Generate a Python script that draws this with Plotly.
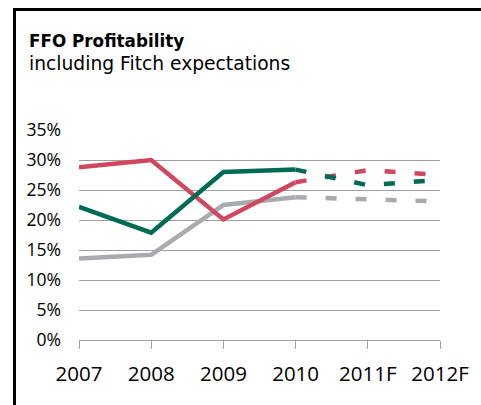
import plotly.graph_objects as go

categories = ["2007", "2008", "2009", "2010", "2011F", "2012F"]
actual_years = ["2007", "2008", "2009", "2010"]
forecast_years = ["2010", "2011F", "2012F"]

red_actual = [28.8, 30.0, 20.1, 26.3]
red_forecast = [26.3, 28.3, 27.5]
green_actual = [22.2, 17.9, 28.0, 28.4]
green_forecast = [28.4, 25.8, 26.7]
gray_actual = [13.6, 14.2, 22.5, 23.8]
gray_forecast = [23.8, 23.4, 23.1]

y_ticks = [0, 5, 10, 15, 20, 25, 30, 35]
y_ticktext = [f"{v}%" for v in y_ticks]

RED = "#D0475F"
GREEN = "#006B55"
GRAY = "#A9ABAE"
TITLE_FONT = "DejaVu Sans"
TICK_FONT = "Open Sans"

W, H = 481, 405
L, R, T, B = 79, 41, 130, 65
pw, ph = W - L - R, H - T - B


def px_x(x):
    return (x - L) / pw


def px_y(y):
    return (H - B - y) / ph


xi = {c: i for i, c in enumerate(categories)}

fig = go.Figure()
series = [
    (gray_actual, gray_forecast, GRAY),
    (red_actual, red_forecast, RED),
    (green_actual, green_forecast, GREEN),
]
for act, fc, col in series:
    fig.add_trace(go.Scatter(
        x=[xi[c] for c in actual_years], y=act, mode="lines",
        line=dict(color=col, width=4.5), showlegend=False, hoverinfo="skip"))
for act, fc, col in series:
    fig.add_trace(go.Scatter(
        x=[xi[c] for c in forecast_years], y=fc, mode="lines",
        line=dict(color=col, width=4.5, dash="11px,19px"), showlegend=False,
        hoverinfo="skip"))

fig.update_layout(
    width=W, height=H,
    margin=dict(l=L, r=R, t=T, b=B, pad=0, autoexpand=False),
    paper_bgcolor="white", plot_bgcolor="white",
    font=dict(family=TICK_FONT, color="black"),
    xaxis=dict(
        range=[0, 5], tickmode="array", tickvals=list(range(len(categories))),
        ticktext=categories, showgrid=False, zeroline=False, automargin=False,
        showline=True, linecolor="#A0A0A0", linewidth=1,
        ticks="outside", ticklen=8, tickcolor="#A0A0A0", tickwidth=1,
        tickfont=dict(size=20.5, family=TICK_FONT, color="black"),
        ticklabelstandoff=7,
    ),
    yaxis=dict(
        range=[0, 35], tickmode="array", tickvals=y_ticks, ticktext=y_ticktext,
        showgrid=True, gridcolor="#A0A0A0", gridwidth=1, zeroline=False,
        showline=False, ticks="", automargin=False,
        tickfont=dict(size=17.5, family=TICK_FONT, color="black"),
        ticklabelstandoff=17,
    ),
    annotations=[
        dict(text="FFO Profitability", xref="paper", yref="paper",
             x=px_x(27), y=px_y(41), xanchor="left", yanchor="middle", align="left",
             showarrow=False,
             font=dict(size=16.8, family=TITLE_FONT, color="black", weight="bold")),
        dict(text="including Fitch expectations", xref="paper", yref="paper",
             x=px_x(27), y=px_y(63), xanchor="left", yanchor="middle", align="left",
             showarrow=False, font=dict(size=18.7, family=TITLE_FONT, color="black")),
    ],
    shapes=[
        dict(type="path", xref="paper", yref="paper",
             path=f"M {px_x(14.5)} {px_y(405)} L {px_x(14.5)} {px_y(9.5)} L {px_x(481)} {px_y(9.5)}",
             line=dict(color="black", width=3)),
    ],
)

fig.write_html("out.html", config={"displayModeBar": False},
               post_script="document.body.style.margin='0';document.body.style.overflow='hidden';")
